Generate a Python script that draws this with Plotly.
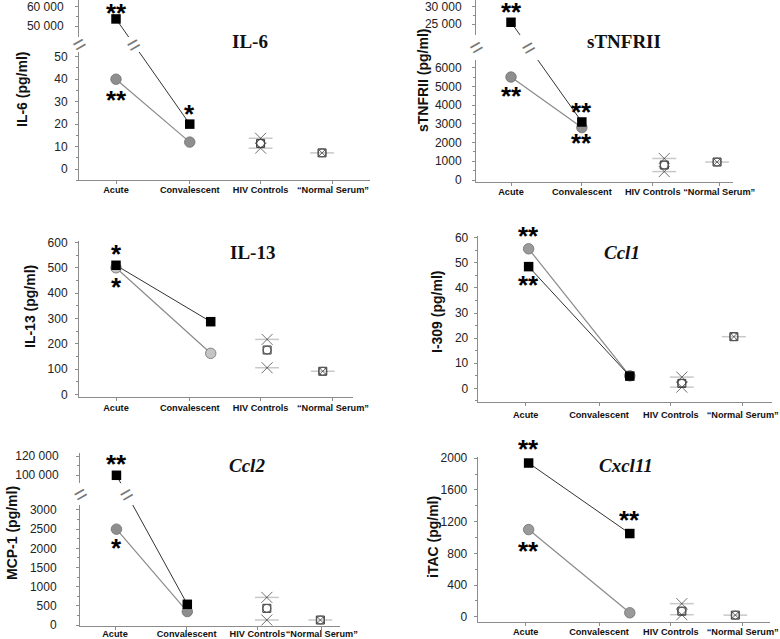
import plotly.graph_objects as go

W, H = 780, 639

categories = ["Acute", "Convalescent", "HIV Controls", "\u201cNormal Serum\u201d"]
titles = ["IL-6", "sTNFRII", "IL-13", "<i>Ccl1</i>", "<i>Ccl2</i>", "<i>Cxcl11</i>"]
y_titles = ["IL-6 (pg/ml)", "sTNFRII (pg/ml)", "IL-13 (pg/ml)",
            "I-309 (pg/ml)", "MCP-1 (pg/ml)", "iTAC (pg/ml)"]

# acute, convalescent
square_vals = [[53800, 20], [25500, 3100], [510, 287], [48.5, 4.9], [100000, 540], [1940, 1050]]
circle_vals = [[40, 12], [5500, 2800], [500, 162], [55.6, 5.0], [2500, 350], [1100, 50]]
# controls
hiv_mean = [11.4, 800, 175, 2.0, 435, 70]
hiv_high = [13.7, 1150, 217, 4.5, 720, 165]
hiv_low = [9.3, 450, 105, 0.5, 130, 25]
normal_vals = [7.2, 960, 91, 20.6, 130, 20]

# significance marks: (panel, series, group, text)
star_marks = [
    (0, "sq", 0, "**"), (0, "ci", 0, "**"), (0, "sq", 1, "*"),
    (1, "sq", 0, "**"), (1, "ci", 0, "**"), (1, "sq", 1, "**"), (1, "ci", 1, "**"),
    (2, "sq", 0, "*"), (2, "ci", 0, "*"),
    (3, "ci", 0, "**"), (3, "sq", 0, "**"),
    (4, "sq", 0, "**"), (4, "ci", 0, "*"),
    (5, "sq", 0, "**"), (5, "ci", 0, "**"), (5, "sq", 1, "**"),
]
star_shift = [9, -18, 13, 13, -16, 13, -12, 14, -16, 16, -15, 14, -16, 17, -18, 17]

# ---- layout geometry (pixels) ----
geom = [
    dict(box=(79, 370), x0=116, unit=72.3, pts=[0, 1.02, 2.0, 2.85], labs=[0, 1.02, 2.0, 3.0], xgap=-2,
         segs=[dict(px=(52, 180.3), rng=[-5.0, 52.1], dtick=10, gap=5),
               dict(px=(0, 37), rng=[44450, 63600], vals=[50000, 60000], minor=[55000], gap=9)]),
    dict(box=(476, 733), x0=511, unit=72.3, pts=[0, 0.98, 2.12, 2.85], labs=[0, 0.98, 1.96, 2.88], xgap=-2,
         segs=[dict(px=(60, 181.7), rng=[-90, 6410], dtick=1000, gap=8),
               dict(px=(0, 35), rng=[21820, 31936], vals=[25000, 30000], minor=[27500], gap=8)]),
    dict(box=(79, 353), x0=116, unit=72.3, pts=[0, 1.31, 2.09, 2.86], labs=[0, 1.02, 2.0, 3.0], xgap=-1,
         segs=[dict(px=(241, 396.7), rng=[-9.5, 606], dtick=100, gap=5)]),
    dict(box=(477.7, 771.7), x0=525.7, unit=73.3, pts=[0.04, 1.42, 2.13, 2.84], labs=[0, 1.0, 1.98, 2.96], xgap=1,
         segs=[dict(px=(236, 401.7), rng=[-5.3, 60.7], dtick=10, gap=3)]),
    dict(box=(80, 340), x0=115, unit=72.3, pts=[0.02, 1.0, 2.1, 2.84], labs=[0, 0.99, 1.97, 2.86], xgap=-4,
         segs=[dict(px=(505, 625.7), rng=[-18, 3130], dtick=500, gap=17),
               dict(px=(453.3, 483.3), rng=[91700, 122800], vals=[100000, 120000], minor=[110000], gap=15)]),
    dict(box=(477.7, 770), x0=525.7, unit=73.3, pts=[0.04, 1.42, 2.13, 2.86], labs=[0, 1.0, 1.98, 2.96], xgap=-2,
         segs=[dict(px=(456.7, 621.7), rng=[-63, 2020], dtick=400, gap=4)]),
]
title_px = [(250, 41), (624, 41), (252, 253), (622, 253), (247, 465), (626, 465)]
ytitle_px = [(22, 90), (423, 80), (30, 307), (437, 312), (12, 533), (433, 537)]
circle_fill = ["#8e8e8e", "#8e8e8e", "#c4c4c4", "#9a9a9a", "#8e8e8e", "#9a9a9a"]

AX = "#8c8c8c"
FONT = "Liberation Sans"


def px_of(v, seg):
    top, bot = seg["px"]
    lo, hi = seg["rng"]
    return bot - (v - lo) / (hi - lo) * (bot - top)


def val_at(px, seg):
    top, bot = seg["px"]
    lo, hi = seg["rng"]
    return lo + (bot - px) / (bot - top) * (hi - lo)


def owner(v, segs):
    if len(segs) == 1 or v <= segs[0]["rng"][1]:
        return 0
    return 1


fig = go.Figure()
layout = {}
annotations = []
axis_refs = []
yi = 0
for p, g in enumerate(geom):
    xn = p + 1
    xref = "x" if xn == 1 else f"x{xn}"
    yrefs = []
    for k, seg in enumerate(g["segs"]):
        yi += 1
        yrefs.append("y" if yi == 1 else f"y{yi}")
        top, bot = seg["px"]
        ax = dict(domain=[1 - bot / H, 1 - top / H], range=seg["rng"], anchor=xref,
                  automargin=False, showline=True, linecolor=AX, linewidth=1,
                  ticks="outside", ticklen=3, tickcolor=AX, showgrid=False, zeroline=False,
                  tickfont=dict(family=FONT, size=12, color="#222"),
                  ticklabelstandoff=seg["gap"], ticklabeloverflow="allow")
        if "dtick" in seg:
            ax.update(tickmode="linear", tick0=0, dtick=seg["dtick"],
                      minor=dict(ticks="outside", ticklen=2, tickcolor=AX,
                                 tick0=0, dtick=seg["dtick"] / 2))
        else:
            ax.update(tickmode="array", tickvals=seg["vals"],
                      ticktext=[f"{v:,}".replace(",", " ") for v in seg["vals"]],
                      minor=dict(ticks="outside", ticklen=2, tickcolor=AX,
                                 tickmode="array", tickvals=seg["minor"]))
        layout["yaxis" if yi == 1 else f"yaxis{yi}"] = ax
    x_lo = (g["box"][0] - g["x0"]) / g["unit"]
    x_hi = (g["box"][1] - g["x0"]) / g["unit"]
    layout["xaxis" if xn == 1 else f"xaxis{xn}"] = dict(
        domain=[g["box"][0] / W, g["box"][1] / W], range=[x_lo, x_hi], anchor=yrefs[0],
        automargin=False, showline=True, linecolor=AX, linewidth=1, ticks="outside",
        ticklen=3, tickcolor=AX, showgrid=False, zeroline=False, tickangle=0,
        tickmode="array", tickvals=g["labs"], ticktext=categories, ticklabeloverflow="allow",
        ticklabelstandoff=g["xgap"],
        tickfont=dict(family=FONT, size=9.2, color="#111", weight="bold"))
    axis_refs.append((xref, yrefs))

    segs = g["segs"]
    xs = g["pts"]

    def series_lines(vals, color, width):
        own = [owner(v, segs) for v in vals]
        pix = [px_of(v, segs[o]) for v, o in zip(vals, own)]
        for k, seg in enumerate(segs):
            yv = [v if o == k else val_at(pp, seg) for v, o, pp in zip(vals, own, pix)]
            fig.add_trace(go.Scatter(x=xs[:2], y=yv, mode="lines",
                                     line=dict(color=color, width=width),
                                     xaxis=xref, yaxis=yrefs[k], hoverinfo="skip"))
        return own, pix

    def series_markers(vals, marker):
        own = [owner(v, segs) for v in vals]
        for k in range(len(segs)):
            yv = [v if o == k else None for v, o in zip(vals, own)]
            if all(v is None for v in yv):
                continue
            fig.add_trace(go.Scatter(x=xs[:2], y=yv, mode="markers", marker=marker,
                                     cliponaxis=False, xaxis=xref, yaxis=yrefs[k],
                                     hoverinfo="skip"))

    series_lines(circle_vals[p], "#8a8a8a", 1.2)
    sq_own, sq_pix = series_lines(square_vals[p], "#333333", 1)
    series_markers(circle_vals[p], dict(symbol="circle", size=10.5, color=circle_fill[p],
                                        line=dict(color="#707070", width=0.8)))
    series_markers(square_vals[p], dict(symbol="square", size=9.5, color="#000000",
                                        line=dict(width=0)))

    # controls
    yl = yrefs[0]
    fig.add_trace(go.Scatter(x=[xs[2], xs[2], xs[3]], y=[hiv_high[p], hiv_low[p], normal_vals[p]],
                             mode="markers",
                             marker=dict(symbol="line-ew-open", size=17, color="#c8c8c8",
                                         line=dict(color="#c8c8c8", width=1.5)),
                             cliponaxis=False, xaxis=xref, yaxis=yl, hoverinfo="skip"))
    fig.add_trace(go.Scatter(x=[xs[2], xs[3]], y=[hiv_mean[p], normal_vals[p]], mode="markers",
                             marker=dict(symbol="square-open", size=8, color="#333",
                                         line=dict(color="#333", width=1)),
                             cliponaxis=False, xaxis=xref, yaxis=yl, hoverinfo="skip"))
    fig.add_trace(go.Scatter(x=[xs[2], xs[3]], y=[hiv_mean[p], normal_vals[p]], mode="markers",
                             marker=dict(symbol="circle-open", size=8, color="#555",
                                         line=dict(color="#555", width=1)),
                             cliponaxis=False, xaxis=xref, yaxis=yl, hoverinfo="skip"))
    fig.add_trace(go.Scatter(x=[xs[2], xs[2], xs[3]], y=[hiv_high[p], hiv_low[p], normal_vals[p]],
                             mode="markers",
                             marker=dict(symbol="x-thin-open", size=[11, 11, 7], color="#333",
                                         line=dict(color="#333", width=1)),
                             cliponaxis=False, xaxis=xref, yaxis=yl, hoverinfo="skip"))

    # axis break marks
    if len(segs) > 1:
        ym = (segs[1]["px"][1] + segs[0]["px"][0]) / 2
        t = (ym - sq_pix[0]) / (sq_pix[1] - sq_pix[0])
        xb = xs[0] + t * (xs[1] - xs[0])
        for bx in (x_lo, xb):
            annotations.append(dict(x=bx, y=1 - ym / H, xref=xref, yref="paper", text="=",
                                    showarrow=False, textangle=-30, xanchor="center",
                                    yanchor="middle",
                                    font=dict(family=FONT, size=22, color="#777")))

    # titles
    tx, ty = title_px[p]
    annotations.append(dict(x=tx / W, y=1 - ty / H, xref="paper", yref="paper",
                            text=f"<b>{titles[p]}</b>", showarrow=False,
                            xanchor="center", yanchor="middle",
                            font=dict(family="Liberation Serif", size=19, color="#111")))
    tx, ty = ytitle_px[p]
    annotations.append(dict(x=tx / W, y=1 - ty / H, xref="paper", yref="paper",
                            text=y_titles[p], showarrow=False, textangle=-90,
                            xanchor="center", yanchor="middle",
                            font=dict(family=FONT, size=14, color="#111", weight="bold")))

for (p, ser, grp, txt), sh in zip(star_marks, star_shift):
    xref, yrefs = axis_refs[p]
    v = (square_vals if ser == "sq" else circle_vals)[p][grp]
    k = owner(v, geom[p]["segs"])
    annotations.append(dict(x=geom[p]["pts"][grp], y=v, xref=xref, yref=yrefs[k], text=txt,
                            showarrow=False, yshift=sh - 3, xanchor="center", yanchor="middle",
                            font=dict(family=FONT, size=26, color="#000", weight="bold")))

fig.update_layout(**layout)
fig.update_layout(template="none", width=W, height=H,
                  margin=dict(l=0, r=0, t=0, b=0, pad=0), autosize=False,
                  showlegend=False, paper_bgcolor="white", plot_bgcolor="white",
                  annotations=annotations)
fig.write_html("out.html", config={"displayModeBar": False},
               post_script="document.body.style.margin='0';")
